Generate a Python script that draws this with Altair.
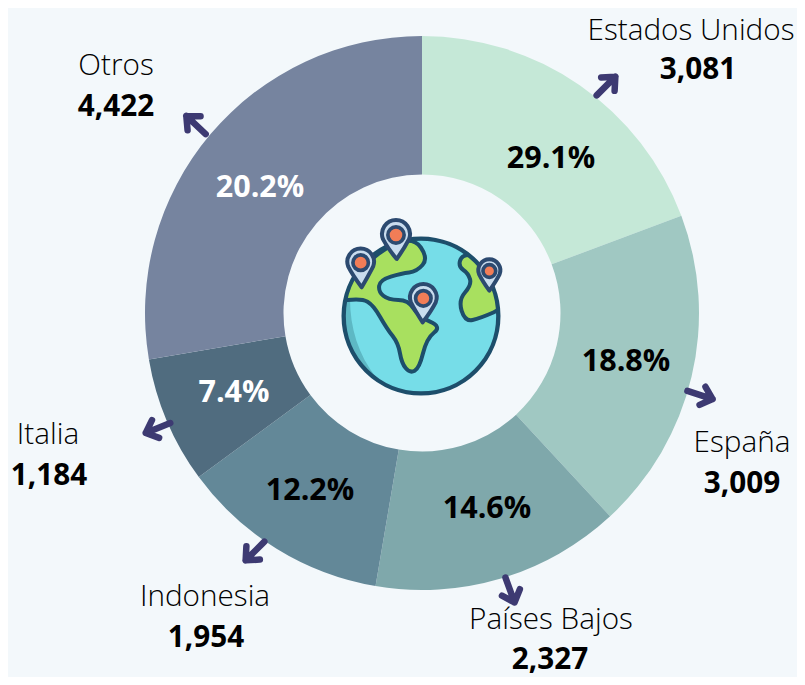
import base64
import altair as alt
import pandas as pd

countries = ["Estados Unidos", "España", "Países Bajos", "Indonesia", "Italia", "Otros"]
values = [3081, 3009, 2327, 1954, 1184, 4422]
value_labels = ["3,081", "3,009", "2,327", "1,954", "1,184", "4,422"]
pct_labels = ["29.1%", "18.8%", "14.6%", "12.2%", "7.4%", "20.2%"]
slice_colors = ["#c5e8d7", "#a0c8c2", "#7fa8ab", "#638898", "#506c7f", "#76849f"]

# positions on the page; the page margin is taken off below
OFF = 8
name_pos = [(691, 31), (742, 443), (551, 620), (205, 597), (48, 435), (116, 66)]
num_pos = [(698, 70), (742, 484), (550, 660), (206, 638), (49, 476), (116, 107)]
pct_pos = [(551, 159), (626, 362), (487, 509), (310, 491), (234, 393), (260, 188)]
pct_colors = ["#000000", "#000000", "#000000", "#000000", "#ffffff", "#ffffff"]
arrow_pos = [(606, 86), (700, 395), (510, 590), (255, 551), (158, 428), (196, 125)]
arrow_angle = [45, 108, 160, 225, 248, 313]

BG = "#f3f8fb"
FONT = "Open Sans"
CX, CY = 422 - OFF, 313 - OFF

df = pd.DataFrame({
    "idx": range(6), "country": countries, "value": values,
    "label": value_labels, "pct": pct_labels, "pct_color": pct_colors,
    "nx": [p[0] - OFF for p in name_pos], "ny": [p[1] - OFF for p in name_pos],
    "vx": [p[0] - OFF for p in num_pos], "vy": [p[1] - OFF for p in num_pos],
    "px": [p[0] - OFF for p in pct_pos], "py": [p[1] - OFF for p in pct_pos],
    "ax": [p[0] - OFF for p in arrow_pos], "ay": [p[1] - OFF for p in arrow_pos],
    "angle": arrow_angle,
})

arcs = alt.Chart(df).mark_arc(outerRadius=277, innerRadius=138.5).encode(
    x=alt.value(CX), y=alt.value(CY),
    theta=alt.Theta("value:Q", stack=True),
    order=alt.Order("idx:Q"),
    color=alt.Color("country:N", scale=alt.Scale(domain=countries, range=slice_colors), legend=None),
)

def text_layer(xf, yf, textf, weight, size, color=None):
    enc = dict(x=alt.X(f"{xf}:Q", scale=None), y=alt.Y(f"{yf}:Q", scale=None), text=f"{textf}:N")
    if color:
        enc["color"] = alt.Color(f"{color}:N", scale=None)
    return alt.Chart(df).mark_text(
        font=FONT, fontSize=size, fontWeight=weight, baseline="middle", align="center", color="#000000"
    ).encode(**enc)

names = text_layer("nx", "ny", "country", 300, 29.7)
nums = text_layer("vx", "vy", "label", 700, 29.7)
pcts = text_layer("px", "py", "pct", 700, 30.5, "pct_color")

ARROW = "M0,1 L0,-1 M-0.72,-0.2 L0,-1 L0.72,-0.2"
arrows = alt.Chart(df).mark_point(
    shape=ARROW, size=700, filled=False, stroke="#3d3a72", strokeWidth=6.5,
    strokeCap="round", strokeJoin="round", opacity=1,
).encode(
    x=alt.X("ax:Q", scale=None), y=alt.Y("ay:Q", scale=None), angle=alt.Angle("angle:Q", scale=None),
)

def smooth(pts):
    mids = [((pts[i][0] + pts[(i + 1) % len(pts)][0]) / 2, (pts[i][1] + pts[(i + 1) % len(pts)][1]) / 2)
            for i in range(len(pts))]
    d = f"M{mids[-1][0]},{mids[-1][1]} "
    for p, m in zip(pts, mids):
        d += f"Q{p[0]},{p[1]} {m[0]},{m[1]} "
    return d + "Z"

def pin(cx, cy, r, tipx, tipy):
    return (
        f'<path d="M{cx-r*0.93},{cy+r*0.3} A{r},{r} 0 1 1 {cx+r*0.93},{cy+r*0.3} '
        f'Q{cx+r*0.6},{cy+r*0.95} {tipx},{tipy} Q{cx-r*0.6},{cy+r*0.95} {cx-r*0.93},{cy+r*0.3} Z" '
        f'fill="#c9dcee" stroke="#2c4a70" stroke-width="12" stroke-linejoin="round"/>'
        f'<circle cx="{cx}" cy="{cy}" r="{r*0.58}" fill="#f27d57" stroke="#2c4a70" stroke-width="11"/>'
    )

land_a = [(10, 290), (60, 230), (150, 135), (250, 95), (295, 160), (260, 200), (215, 205), (150, 225), (145, 260),
          (175, 285), (235, 285), (265, 335), (335, 365), (290, 400), (268, 490), (240, 505), (215, 475), (205, 415),
          (170, 370), (130, 300), (95, 280)]
land_b = [(395, 150), (385, 185), (415, 205), (425, 240), (385, 285), (405, 350), (450, 340), (530, 305), (530, 190),
          (440, 150)]

globe_svg = f'''<svg xmlns="http://www.w3.org/2000/svg" width="555" height="600" viewBox="0 0 555 600">
<defs><clipPath id="g"><circle cx="273" cy="333" r="232"/></clipPath></defs>
<circle cx="273" cy="333" r="232" fill="#76dde8"/>
<g clip-path="url(#g)">
<path d="M20,260 L60,280 C60,370 85,450 140,520 L20,520 Z" fill="#5db8c4"/>
<path d="{smooth(land_a)}" fill="#a8e05f" stroke="#1d4e6b" stroke-width="12" stroke-linejoin="round"/>
<path d="{smooth(land_b)}" fill="#a8e05f" stroke="#1d4e6b" stroke-width="12" stroke-linejoin="round"/>
</g>
<circle cx="273" cy="333" r="232" fill="none" stroke="#1d4e6b" stroke-width="13"/>
{pin(198, 90, 42, 200, 162)}
{pin(92, 173, 40, 95, 247)}
{pin(280, 280, 40, 278, 352)}
{pin(478, 198, 33, 478, 257)}
</svg>'''
globe_url = "data:image/svg+xml;base64," + base64.b64encode(globe_svg.encode()).decode()

globe = alt.Chart(pd.DataFrame({"u": [globe_url]})).mark_image(
    width=185, height=200, align="left", baseline="top"
).encode(x=alt.value(330 - OFF), y=alt.value(205 - OFF), url="u:N")

chart = alt.layer(arcs, arrows, names, nums, pcts, globe).properties(
    width=789, height=669, background=BG, padding=0,
    autosize=alt.AutoSizeParams(type="none"),
).configure_view(stroke=None)

chart.save("out.html", embed_options={"renderer": "svg", "actions": False})
